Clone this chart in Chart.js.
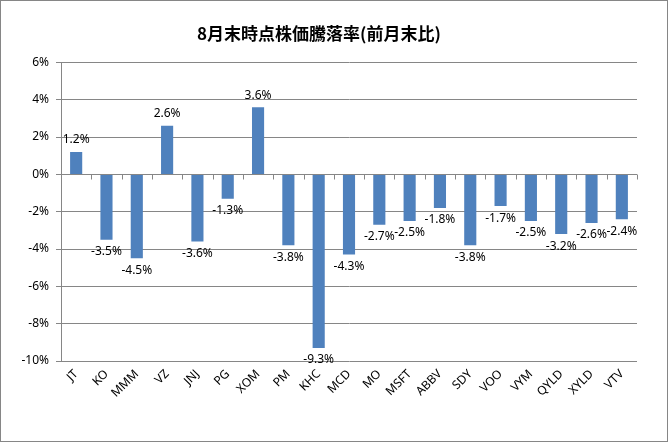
<!DOCTYPE html>
<html>
<head>
<meta charset="utf-8">
<script src="https://cdn.jsdelivr.net/npm/chart.js@4/dist/chart.umd.min.js"></script>
<style>
  html, body { margin: 0; padding: 0; background: #fff; }
  #wrap { width: 668px; height: 442px; box-sizing: border-box; border: 1px solid #868686; position: relative; }
  canvas { display: block; }
</style>
</head>
<body>
<div id="wrap"><canvas id="c" width="666" height="440"></canvas></div>
<script>
const titleText = '8月末時点株価騰落率(前月末比)';
const categories = ['JT','KO','MMM','VZ','JNJ','PG','XOM','PM','KHC','MCD','MO','MSFT','ABBV','SDY','VOO','VYM','QYLD','XYLD','VTV'];
const changes = [1.2, -3.5, -4.5, 2.6, -3.6, -1.3, 3.6, -3.8, -9.3, -4.3, -2.7, -2.5, -1.8, -3.8, -1.7, -2.5, -3.2, -2.6, -2.4];
const yMin = -10, yMax = 6, yStep = 2;

const FONT = "'Noto Sans', 'DejaVu Sans', sans-serif";

const labelPlugin = {
  id: 'valueLabels',
  afterDatasetsDraw(chart) {
    const ctx = chart.ctx;
    const meta = chart.getDatasetMeta(0);
    ctx.save();
    ctx.font = '12px ' + FONT;
    ctx.fillStyle = '#000';
    ctx.textAlign = 'center';
    meta.data.forEach((bar, i) => {
      const v = changes[i];
      const txt = v.toFixed(1) + '%';
      if (v >= 0) {
        ctx.textBaseline = 'bottom';
        ctx.fillText(txt, bar.x, bar.y - 6);
      } else {
        ctx.textBaseline = 'top';
        ctx.fillText(txt, bar.x, bar.y + 6);
      }
    });
    ctx.restore();
  }
};

const zeroAxisPlugin = {
  id: 'zeroAxis',
  afterDraw(chart) {
    const ctx = chart.ctx;
    const y = chart.scales.y;
    const y0 = Math.round(y.getPixelForValue(0)) + 0.5;
    ctx.save();
    ctx.strokeStyle = '#868686';
    ctx.lineWidth = 1;
    ctx.beginPath();
    ctx.moveTo(chart.chartArea.left, y0);
    ctx.lineTo(chart.chartArea.right, y0);
    const n = categories.length;
    const w = (chart.chartArea.right - chart.chartArea.left) / n;
    for (let i = 1; i <= n; i++) {
      const xx = Math.round(chart.chartArea.left + i * w) + 0.5;
      ctx.moveTo(xx, y0);
      ctx.lineTo(xx, y0 + 5);
    }
    ctx.stroke();
    ctx.restore();
  }
};

new Chart(document.getElementById('c'), {
  type: 'bar',
  data: {
    labels: categories,
    datasets: [{
      data: changes,
      backgroundColor: '#4F81BD',
      borderWidth: 0,
      categoryPercentage: 1.0,
      barPercentage: 0.4
    }]
  },
  options: {
    responsive: false,
    animation: false,
    devicePixelRatio: 1,
    layout: { padding: { left: 0, right: 30, top: 0, bottom: 0 } },
    plugins: {
      legend: { display: false },
      tooltip: { enabled: false },
      title: {
        display: true,
        text: titleText,
        color: '#000',
        font: { family: "'Noto Sans CJK JP', sans-serif", size: 17, weight: 'bold' },
        padding: { top: 22, bottom: 19 }
      }
    },
    scales: {
      x: {
        grid: { display: false, drawTicks: false },
        border: { display: false },
        ticks: {
          color: '#000',
          font: { family: FONT, size: 12 },
          maxRotation: 45,
          minRotation: 45,
          autoSkip: false,
          padding: 6
        },
        afterFit(scale) { scale.height = 80; }
      },
      y: {
        min: yMin,
        max: yMax,
        grid: { color: '#868686', lineWidth: 1, drawTicks: true, tickLength: 5, tickColor: '#868686' },
        border: { display: true, color: '#868686' },
        ticks: {
          stepSize: yStep,
          color: '#000',
          font: { family: FONT, size: 12 },
          padding: 7,
          callback: v => v + '%'
        },
        afterFit(scale) { scale.width = 60; }
      }
    }
  },
  plugins: [labelPlugin, zeroAxisPlugin]
});
</script>
</body>
</html>
